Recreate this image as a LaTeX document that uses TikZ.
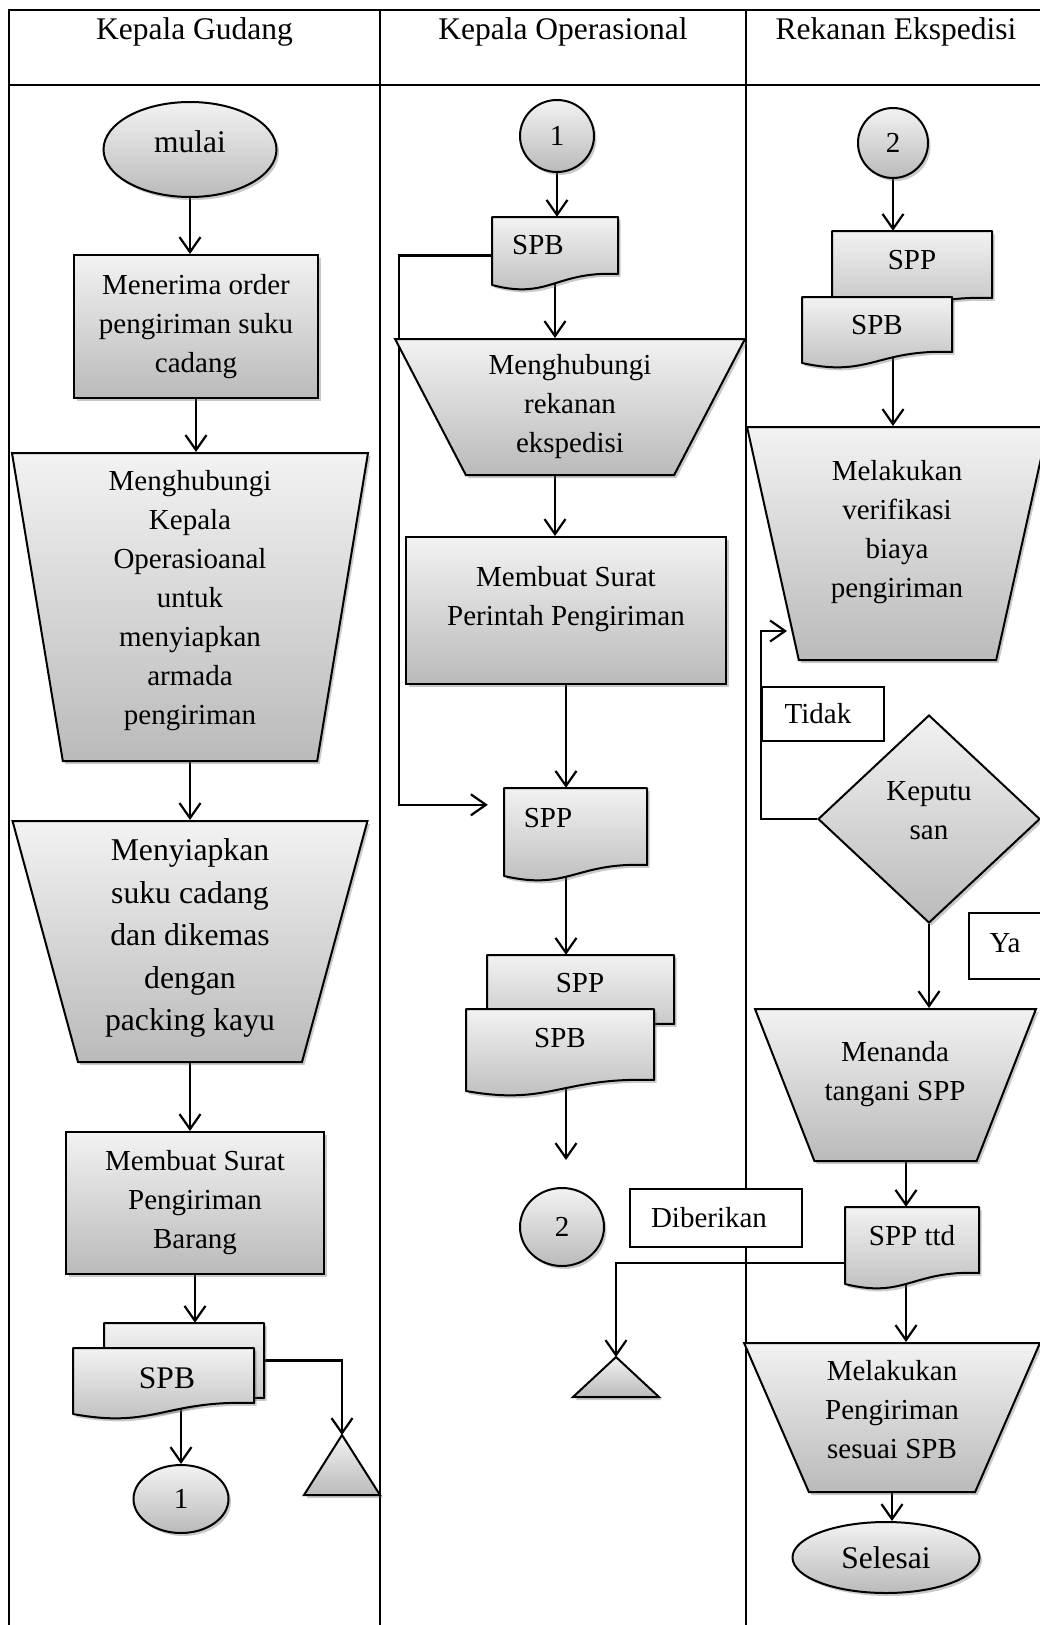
\documentclass[tikz,border=0pt]{standalone}
\usepackage{fontspec}
\setmainfont{Liberation Serif}
\usetikzlibrary{shapes.geometric, arrows.meta, shadows}
\pgfdeclarelayer{background}
\pgfsetlayers{background,main}

\tikzset{
  garis/.style={line width=2.7pt},
  alur/.style={line width=2.2pt, -{Straight Barb[length=15pt,width=21pt]}},
  warna/.style={draw, line width=2pt, top color=black!5, bottom color=black!27,
    drop shadow={shadow xshift=2.5pt, shadow yshift=-3pt, opacity=0.35, fill=black!60}},
  proses/.style={rectangle, warna, align=center, inner sep=2pt},
  manual/.style={trapezium, trapezium stretches=true, warna, align=center, inner sep=2pt},
  terminal/.style={ellipse, warna, inner sep=2pt, font=\fontsize{31.5}{40}\selectfont},
  konektor/.style={ellipse, warna, inner sep=0pt},
  putusan/.style={diamond, warna, align=center, inner sep=2pt},
  berkas/.style={warna, line join=round},
  tubuh/.style={rectangle, inner sep=0pt},
  isi/.style={align=center, inner sep=0pt},
  ket/.style={rectangle, draw, line width=1.7pt, fill=white, inner sep=0pt},
  judul/.style={anchor=base, font=\fontsize{31.5}{40}\selectfont}
}

% document symbol with a wavy bottom, plus an empty body node
\newcommand{\dokumen}[5]{%
  \pgfmathsetmacro{\lebar}{#4-#2}
  \draw[berkas] (#2,#3) -- (#4,#3) -- (#4,#5) .. controls +(-0.5*\lebar,-3) and +(0.45*\lebar,15) .. (#2,#5+11) -- cycle;
  \node[tubuh, minimum width=#4-#2, minimum height=#5-#3] (#1) at ({(#2+#4)/2},{(#3+#5)/2}) {};
}

\begin{document}
\begin{tikzpicture}[x=1pt, y=-1pt, font=\fontsize{29}{39}\selectfont]
\useasboundingbox (0,0) rectangle (1040,1625);

\node[judul] (jGudang) at (194.5,39.5) {Kepala Gudang};
\node[judul] (jOps) at (563,39.5) {Kepala Operasional};
\node[judul] (jRek) at (896,39.5) {Rekanan Ekspedisi};

% Kepala Gudang
\node[terminal, minimum width=173pt, minimum height=95pt] (mulai) at (190,149.5) {};
\node[isi, font=\fontsize{31.5}{40}\selectfont] (tMulai) at (190,142) {mulai};
\node[proses, minimum width=244pt, minimum height=143pt] (terima) at (196,326.5) {Menerima order\\pengiriman suku\\cadang};
\node[manual, minimum width=356pt, minimum height=308pt, trapezium angle=101.3] (hubOps) at (190,607) {};
\node[isi] (tHubOps) at (190,601) {Menghubungi\\Kepala\\Operasioanal\\untuk\\menyiapkan\\armada\\pengiriman};
\node[manual, minimum width=355pt, minimum height=241pt, trapezium angle=106.3] (siapkan) at (190,941.5) {};
\node[isi, font=\fontsize{31.7}{42.5}\selectfont] (tSiapkan) at (190,938) {Menyiapkan\\suku cadang\\dan dikemas\\dengan\\packing kayu};
\node[proses, minimum width=258pt, minimum height=142pt] (buatSPB) at (195,1203) {Membuat Surat\\Pengiriman\\Barang};
\dokumen{spbBlk}{104}{1323}{264}{1398}
\dokumen{spbGdg}{73}{1348}{254}{1403}
\node[font=\fontsize{31.5}{40}\selectfont] (tSpbGdg) at (167,1378) {SPB};
\node[konektor, minimum width=95pt, minimum height=68pt] (ke1) at (181,1499) {1};
\coordinate (arsip1) at (342,1435);
\draw[warna] (arsip1) -- (380,1495) -- (304,1495) -- cycle;

% Kepala Operasional
\node[konektor, minimum width=74pt, minimum height=72pt] (dari1) at (557,136) {1};
\dokumen{spbOps}{492}{217}{618}{274}
\node (tSpbOps) at (538,245) {SPB};
\node[manual, minimum width=350pt, minimum height=136pt, trapezium angle=117.6] (hubRek) at (570,407) {Menghubungi\\rekanan\\ekspedisi};
\node[proses, minimum width=320pt, minimum height=147pt] (buatSPP) at (566,610.5) {};
\node[isi] (tBuatSPP) at (566,599) {Membuat Surat\\Perintah Pengiriman};
\dokumen{sppOps}{504}{788}{647}{865}
\node (tSppOps) at (548,818) {SPP};
\dokumen{sppBlk}{487}{955}{674}{1024}
\node (tSppBlk) at (580,983) {SPP};
\dokumen{spbDpn}{466}{1009}{654}{1080}
\node (tSpbDpn) at (560,1038) {SPB};
\node[konektor, minimum width=84pt, minimum height=78pt] (ke2) at (562,1227) {2};
\coordinate (arsip2) at (616,1357);
\draw[warna] (arsip2) -- (659,1397) -- (573,1397) -- cycle;
\node[ket, minimum width=172pt, minimum height=58pt] (diberi) at (716,1218) {};
\node (tDiberi) at (709,1218) {Diberikan};

% Rekanan Ekspedisi
\node[konektor, minimum width=70pt, minimum height=70pt] (dari2) at (893,143) {2};
\dokumen{sppRek}{832}{231}{992}{298}
\node (tSppRek) at (912,260) {SPP};
\dokumen{spbRek}{802}{297}{952}{352}
\node (tSpbRek) at (877,325) {SPB};
\node[manual, minimum width=301pt, minimum height=233pt, trapezium angle=104.7] (verif) at (897.5,543.5) {};
\node[isi] (tVerif) at (897,532) {Melakukan\\verifikasi\\biaya\\pengiriman};
\coordinate (ulang) at (787,631);
\node[ket, minimum width=122pt, minimum height=54pt] (tidak) at (823,714) {};
\node (tTidak) at (818,714) {Tidak};
\node[putusan, minimum width=222pt, minimum height=208pt] (putus) at (929,819) {};
\node[isi] (tPutus) at (929,811) {Keputu\\san};
\node[ket, minimum width=80pt, minimum height=66pt, anchor=north west] (ya) at (968,912) {};
\node (tYa) at (1005,943) {Ya};
\node[manual, minimum width=281pt, minimum height=152pt, trapezium angle=110.1] (tanda) at (895.5,1085) {};
\node[isi] (tTanda) at (895,1074) {Menanda\\tangani SPP};
\dokumen{sppTtd}{845}{1207}{979}{1273}
\node (tSppTtd) at (912,1236) {SPP ttd};
\node[manual, minimum width=296pt, minimum height=149pt, trapezium angle=111.3] (kirim) at (892,1417.5) {};
\node[isi] (tKirim) at (892,1410) {Melakukan\\Pengiriman\\sesuai SPB};
\node[terminal, minimum width=187pt, minimum height=71pt] (selesai) at (886,1557.5) {Selesai};

\begin{pgfonlayer}{background}
\draw[garis] (9,1625) -- (9,10) -- (1040,10);
\draw[garis] (9,85) -- (1040,85);
\draw[garis] (380,10) -- (380,1625);
\draw[garis] (746,10) -- (746,1625);

\draw[alur] (mulai.south) -- (mulai.south |- terima.north);
\draw[alur] (terima.south) -- (terima.south |- hubOps.north);
\draw[alur] (hubOps.south) -- (hubOps.south |- siapkan.north);
\draw[alur] (siapkan.south) -- (siapkan.south |- buatSPB.north);
\draw[alur] (buatSPB.south) -- (buatSPB.south |- spbBlk.north);
\draw[alur] (ke1.north |- spbGdg.south) -- (ke1.north);
\draw[alur] (spbBlk.east) -| (arsip1);

\draw[alur] (dari1.south) -- (dari1.south |- spbOps.north);
\draw[alur] (spbOps.south) -- (spbOps.south |- hubRek.north);
\draw[alur] (spbOps.south |- hubRek.south) -- (spbOps.south |- buatSPP.north);
\draw[alur] (buatSPP.south) -- (buatSPP.south |- sppOps.north);
\draw[alur, shorten >=16pt] ([yshift=-10pt]spbOps.west) -- ++(-93,0) |- ([yshift=-17pt]sppOps.north west);
\draw[alur] (buatSPP.south |- sppOps.south) -- (buatSPP.south |- sppBlk.north);
\draw[alur, shorten >=27pt] (buatSPP.south |- spbDpn.south) -- (buatSPP.south |- ke2.north);

\draw[alur] (dari2.south) -- (dari2.south |- sppRek.north);
\draw[alur] (spbRek.south -| dari2) -- (verif.north -| dari2);
\draw[alur] (putus.west) -- ++(-56,0) |- (ulang);
\draw[alur] (putus.south) -- (putus.south |- tanda.north);
\draw[alur] ([xshift=-6pt]sppTtd.north |- tanda.south) -- ([xshift=-6pt]sppTtd.north);
\draw[alur] ([xshift=-6pt]sppTtd.south) -- ([xshift=-6pt]sppTtd.south |- kirim.north);
\draw[alur] (kirim.south) -- (kirim.south |- selesai.north);
\draw[alur] ([yshift=-23pt]sppTtd.west) -| (arsip2);
\end{pgfonlayer}
\end{tikzpicture}
\end{document}
